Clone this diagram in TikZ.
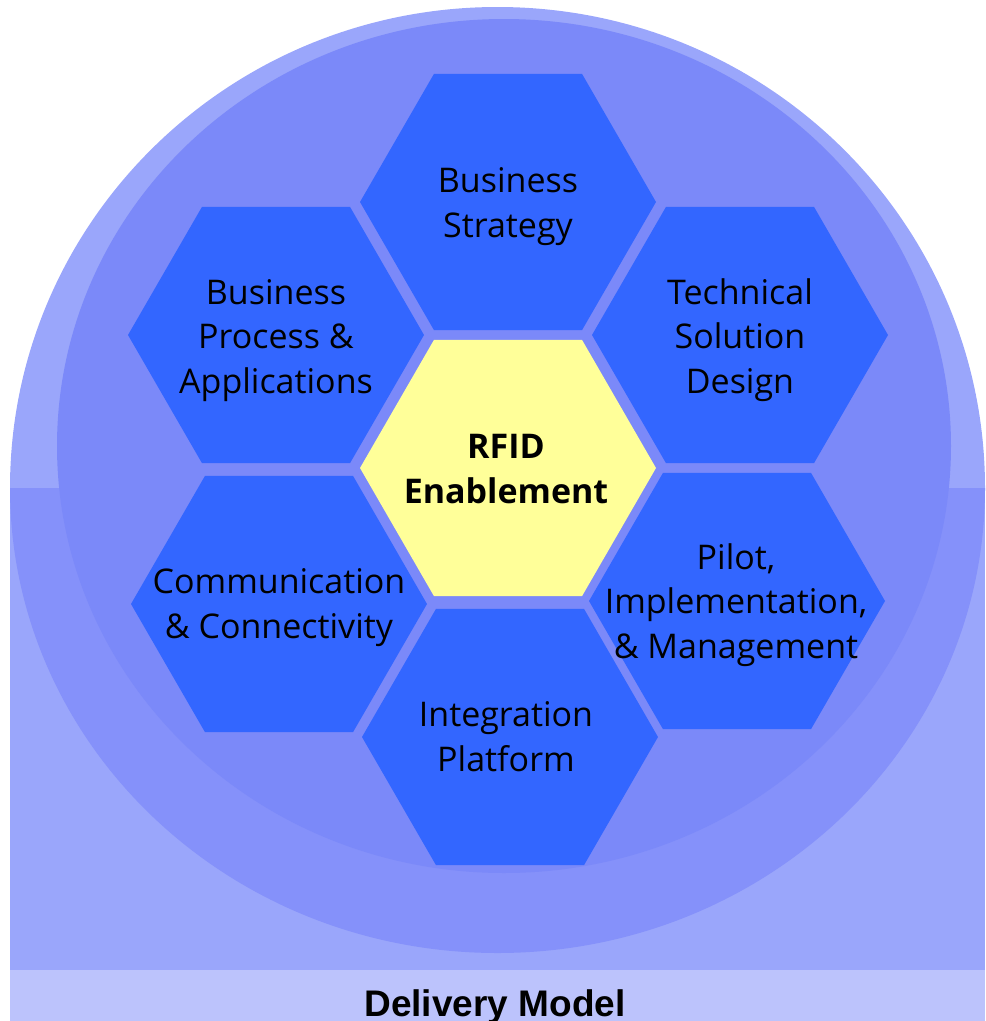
\documentclass[tikz,border=0pt]{standalone}
\usepackage{fontspec}
\setmainfont{Open Sans}
\newfontfamily\dmfont{Liberation Sans}
\definecolor{ringlight}{HTML}{9AA6FB}
\definecolor{ringmed}{HTML}{8591FA}
\definecolor{inner}{HTML}{7B89F9}
\definecolor{barcol}{HTML}{BCC3FC}
\definecolor{hexblue}{HTML}{3366FF}
\definecolor{hexyellow}{HTML}{FFFF99}
\tikzset{
  hexa/.pic={\path[pic actions] (0:148) -- (60:148) -- (120:148) -- (180:148) -- (240:148) -- (300:148) -- cycle;},
  lbl/.style={align=center, inner sep=0pt, anchor=base, text=black, font=\fontsize{34}{44.5}\selectfont},
  clbl/.style={lbl, font=\bfseries\fontsize{34}{45}\selectfont},
}
\begin{document}
\begin{tikzpicture}[x=1pt,y=-1pt]
\useasboundingbox (0,0) rectangle (986,1021);
% outer light disc, upper part
\fill[ringlight] (497.5,488) ellipse [x radius=487.5, y radius=481];
% lower band
\fill[ringlight] (10,488) rectangle (985,970);
\begin{scope}
  \clip (0,488) rectangle (986,970);
  \fill[ringmed] (497.5,488) ellipse [x radius=487.5, y radius=465];
\end{scope}
% inner disc
\fill[inner] (504,446) ellipse [x radius=447, y radius=427];
% bottom bar
\fill[barcol] (10,970) rectangle (985,1021);
\node[font=\dmfont\bfseries\fontsize{37}{40}\selectfont, anchor=base, inner sep=0pt] (dm) at (495,1016) {Delivery Model};
% hexagons
\pic (hc) [fill=hexyellow] at (508,468) {hexa};
\pic (hbs) [fill=hexblue] at (508,202) {hexa};
\pic (hbp) [fill=hexblue] at (276,335) {hexa};
\pic (hts) [fill=hexblue] at (740,335) {hexa};
\pic (hcc) [fill=hexblue] at (279,604) {hexa};
\pic (hpi) [fill=hexblue] at (737,601) {hexa};
\pic (hip) [fill=hexblue] at (510,737) {hexa};
% labels (anchor at baseline of last line)
\node[clbl] (tc) at (506,503) {RFID\\Enablement};
\node[lbl] (tbs) at (508,237) {Business\\Strategy};
\node[lbl] (tbp) at (276,393) {Business\\Process \&\\Applications};
\node[lbl] (tts) at (740,393) {Technical\\Solution\\Design};
\node[lbl] (tcc) at (279,638) {Communication\\\& Connectivity};
\node[lbl] (tpi) at (736,658) {Pilot,\\Implementation,\\\& Management};
\node[lbl] (tip) at (506,771) {Integration\\Platform};
\end{tikzpicture}
\end{document}
